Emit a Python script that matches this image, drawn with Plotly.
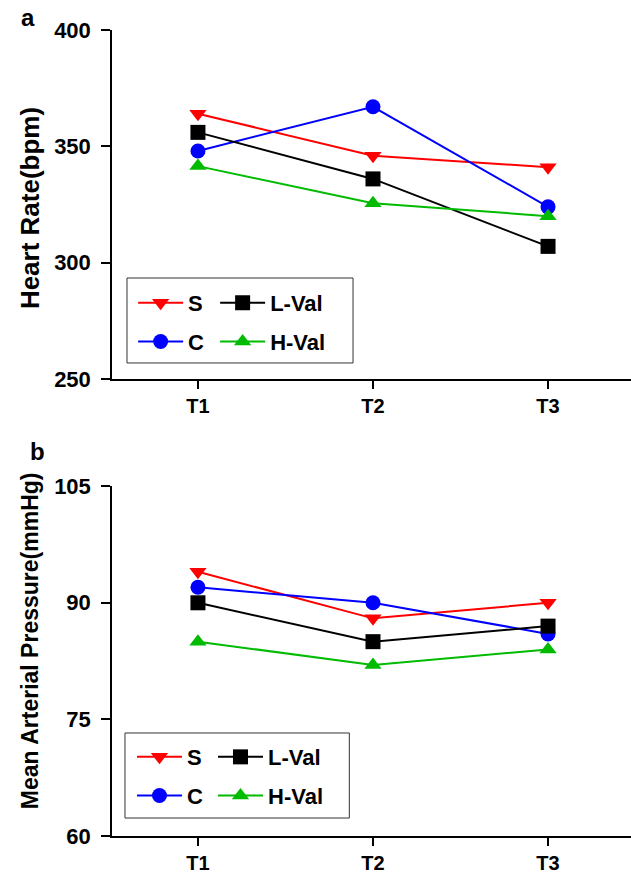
import plotly.graph_objects as go
from plotly.subplots import make_subplots

times = ["T1", "T2", "T3"]
series_names = ["S", "C", "L-Val", "H-Val"]

hr_S = [364, 346, 341]
hr_C = [348, 367, 324]
hr_LVal = [356, 336, 307]
hr_HVal = [341.5, 325.5, 320]

map_S = [94, 88, 90]
map_C = [92, 90, 86]
map_LVal = [90, 85, 87]
map_HVal = [85, 82, 84]

hr_ticks = [250, 300, 350, 400]
map_ticks = [60, 75, 90, 105]

colors = {"S": "#ff0000", "C": "#0000ff", "L-Val": "#000000", "H-Val": "#00bb00"}
symbols = {"S": "triangle-down", "C": "circle", "L-Val": "square", "H-Val": "triangle-up"}

FONT = "Liberation Sans, Arial, Helvetica, sans-serif"

fig = make_subplots(rows=2, cols=1, vertical_spacing=0.133)

top_data = {"S": hr_S, "C": hr_C, "L-Val": hr_LVal, "H-Val": hr_HVal}
bot_data = {"S": map_S, "C": map_C, "L-Val": map_LVal, "H-Val": map_HVal}
top_leg = {"S": "legend", "C": "legend", "L-Val": "legend2", "H-Val": "legend2"}
bot_leg = {"S": "legend3", "C": "legend3", "L-Val": "legend4", "H-Val": "legend4"}

for row, data, legmap, tag in [(1, top_data, top_leg, "a"), (2, bot_data, bot_leg, "b")]:
    for name in series_names:
        fig.add_trace(go.Scatter(
            x=times, y=data[name], name=name, mode="lines+markers",
            line=dict(color=colors[name], width=2),
            marker=dict(symbol=symbols[name], size=15, color=colors[name]),
            legend=legmap[name], legendgroup=tag + name,
            cliponaxis=False,
        ), row=row, col=1)

axis_common = dict(
    showline=True, linecolor="black", linewidth=1.5,
    ticks="outside", tickwidth=1.5, tickcolor="black",
    showgrid=False, zeroline=False, automargin=False,
)
for r in (1, 2):
    fig.update_xaxes(range=[-0.491, 2.474], ticklen=8, row=r, col=1,
                     tickfont=dict(family=FONT, size=20, color="black", weight="bold"), **axis_common)
ytickfont = dict(family=FONT, size=22, color="black", weight="bold")
fig.update_yaxes(range=[250, 400], tickvals=hr_ticks, ticklen=9, ticklabelstandoff=6,
                 tickfont=ytickfont, row=1, col=1, **axis_common)
fig.update_yaxes(range=[60, 105], tickvals=map_ticks, ticklen=9, ticklabelstandoff=6,
                 tickfont=ytickfont, row=2, col=1, **axis_common)

fig.update_layout(yaxis=dict(domain=[0.567, 1.0]), yaxis2=dict(domain=[0.0, 0.434]))

leg_common = dict(
    bgcolor="rgba(0,0,0,0)", borderwidth=0, xanchor="left", yanchor="top",
    tracegroupgap=7, traceorder="grouped", itemwidth=45,
    font=dict(family=FONT, size=22, color="black", weight="bold"),
)
fig.update_layout(
    legend=dict(x=0.0407, y=0.6873, **leg_common),
    legend2=dict(x=0.1987, y=0.6873, **leg_common),
    legend3=dict(x=0.0385, y=0.1240, **leg_common),
    legend4=dict(x=0.1946, y=0.1240, **leg_common),
)

fig.add_shape(type="rect", xref="paper", yref="paper", x0=0.0289, x1=0.4644, y0=0.5869, y1=0.6923,
              line=dict(color="#333333", width=1))
fig.add_shape(type="rect", xref="paper", yref="paper", x0=0.0250, x1=0.4573, y0=0.0223, y1=0.1278,
              line=dict(color="#333333", width=1))

ann_font = dict(family=FONT, size=24, color="black", weight="bold")
anchor = dict(xref="paper", yref="paper", showarrow=False, xanchor="center", yanchor="middle")
fig.add_annotation(text="a", x=-0.162, y=1.015, font=ann_font, **anchor)
fig.add_annotation(text="b", x=-0.1445, y=0.477, font=ann_font, **anchor)
fig.add_annotation(text="Heart Rate(bpm)", x=-0.158, y=0.779, textangle=-90,
                   font=dict(family=FONT, size=26, color="black", weight="bold"), **anchor)
fig.add_annotation(text="Mean Arterial Pressure(mmHg)", x=-0.158, y=0.243, textangle=-90,
                   font=dict(family=FONT, size=23, color="black", weight="bold"), **anchor)

fig.update_layout(
    width=631, height=874,
    margin=dict(l=112, r=0, t=30, b=38),
    plot_bgcolor="white", paper_bgcolor="white",
    font=dict(family=FONT, color="black"),
)

fig.write_html("out.html", post_script="document.body.style.margin='0';",
               config={"displayModeBar": False})
